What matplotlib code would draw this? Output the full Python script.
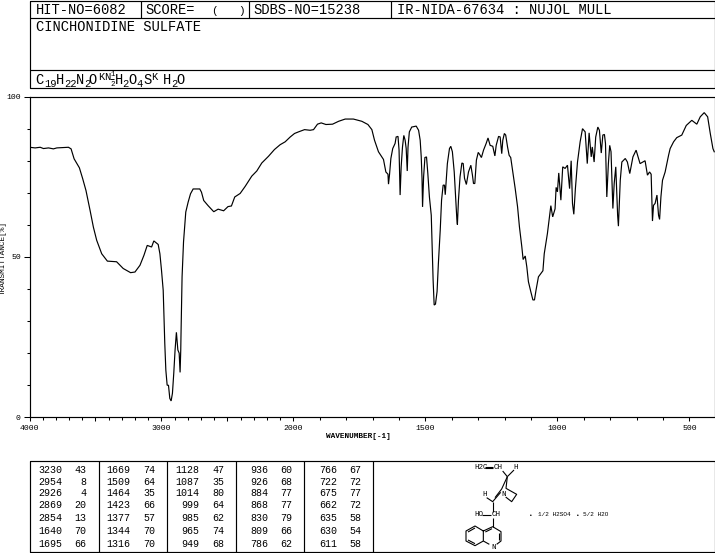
import numpy as np
import matplotlib
matplotlib.use("Agg")
import matplotlib.pyplot as plt
from matplotlib.ticker import FixedLocator, FixedFormatter, NullFormatter

MONO = "Liberation Mono"

wavenumber = [4000,3957,3919,3894,3856,3819,3793,3705,3685,3662,3622,3597,3572,3541,3516,3491,3453,3410,3340,3290,3234,3201,3163,3133,3108,3075,3058,3025,3012,3000,2987,2982,2975,2967,2957,2947,2937,2927,2917,2907,2897,2887,2876,2866,2859,2854,2852,2844,2833,2823,2816,2798,2780,2760,2710,2697,2680,2647,2604,2571,2529,2496,2470,2445,2404,2366,2316,2278,2240,2189,2144,2101,2063,2025,1996,1981,1958,1937,1924,1909,1895,1877,1852,1829,1804,1773,1741,1718,1703,1693,1678,1659,1650,1642,1640,1636,1631,1624,1615,1611,1604,1600,1596,1592,1587,1582,1577,1573,1569,1566,1561,1552,1535,1526,1520,1516,1513,1511,1507,1502,1496,1491,1485,1478,1475,1471,1467,1462,1456,1451,1444,1439,1433,1428,1425,1422,1417,1409,1404,1398,1391,1385,1381,1379,1375,1369,1362,1357,1352,1345,1337,1328,1322,1318,1313,1307,1300,1295,1288,1280,1270,1263,1255,1245,1237,1232,1223,1217,1211,1207,1201,1196,1189,1183,1177,1169,1160,1151,1144,1135,1130,1122,1116,1110,1101,1093,1087,1081,1072,1055,1050,1044,1038,1030,1025,1018,1009,1005,1000,995,987,980,971,962,954,948,943,938,932,924,914,905,895,887,880,872,868,861,855,847,841,834,828,822,818,813,807,802,797,790,785,779,772,769,762,756,743,735,726,714,702,687,668,659,651,645,640,636,630,623,617,613,608,602,592,579,573,560,548,529,512,491,472,459,444,431,421,411,406]
transmittance = [84.2,84.0,84.2,83.8,84.0,83.7,84.0,84.2,83.7,80.6,77.8,74.4,70.7,64.5,59.3,55.2,51.0,48.7,48.5,46.4,45.1,45.3,47.4,50.5,53.6,53.1,55.0,53.9,51.0,45.9,39.6,32.9,23.0,14.7,10.0,10.0,5.9,5.1,7.5,13.7,21.0,26.5,21.0,20.0,14.0,21.0,26.0,43.8,54.7,60.4,64.0,67.1,69.7,71.2,71.2,70.2,67.6,66.0,64.1,64.9,64.4,65.7,65.9,68.7,69.8,72.0,75.2,76.8,79.3,81.4,83.5,85.0,85.9,87.4,88.5,89.0,89.7,89.5,89.7,91.4,91.8,91.3,91.4,92.3,93.0,93.0,92.3,91.3,89.7,86.4,82.8,80.4,76.5,75.8,72.7,75.8,80.7,83.8,85.4,87.4,87.6,83.3,69.3,78.1,84.3,87.9,86.4,83.8,76.8,84.3,89.0,90.5,90.8,89.5,86.4,81.2,74.5,65.6,75.0,81.0,81.2,76.0,68.7,63.0,54.2,42.8,35.0,35.3,39.2,48.0,58.4,67.7,72.4,72.4,69.4,72.9,79.1,83.8,84.5,82.8,76.5,67.7,61.7,60.1,67.7,75.0,79.3,79.1,74.5,72.6,76.5,78.6,75.5,72.9,72.9,80.2,82.6,82.0,81.0,83.3,85.4,87.1,84.8,84.5,81.5,84.8,87.6,87.4,82.2,86.4,88.5,88.0,84.3,81.7,81.0,76.5,71.3,65.6,59.4,53.2,49.2,50.3,46.9,42.3,39.2,36.6,36.6,39.7,43.8,45.7,51.0,54.2,57.3,62.5,66.0,62.5,65.0,71.7,70.3,76.2,67.7,78.1,77.6,78.6,71.3,80.0,66.7,63.3,71.3,79.6,85.9,90.0,89.0,79.1,88.7,81.2,84.3,79.6,87.4,90.5,89.5,82.4,88.0,88.2,85.4,68.7,79.1,84.8,82.8,65.1,72.9,78.1,63.0,59.6,73.9,79.6,80.7,79.6,76.0,81.2,83.3,79.1,80.0,75.5,76.5,75.8,61.2,66.1,66.7,69.3,63.0,61.7,68.7,73.9,76.5,81.7,83.8,85.9,87.2,88.0,91.0,92.6,91.4,93.7,95.0,93.7,88.5,83.8,82.8]

major_ticks = [4000,3500,3000,2500,2000,1500,1000,500]
tick_labels = ["4000","","3000","","2000","1500","1000","500"]
y_major = [0,50,100]
y_labels = ["0","50","100"]

peak_wn = [[3230,2954,2926,2869,2854,1640,1695],
           [1669,1509,1464,1423,1377,1344,1316],
           [1128,1087,1014,999,985,965,949],
           [936,926,884,868,830,809,786],
           [766,722,675,662,635,630,611]]
peak_t = [[43,8,4,20,13,70,66],
          [74,64,35,66,57,70,70],
          [47,35,80,64,62,74,68],
          [60,68,77,77,79,66,62],
          [67,72,77,72,58,54,58]]

W, H = 715, 553
fig = plt.figure(figsize=(W/100, H/100), dpi=100, facecolor="white")

# pixel overlay for the frames and the text panels
ov = fig.add_axes([0, 0, 1, 1], zorder=0)
ov.set_xlim(0, W); ov.set_ylim(H, 0); ov.axis("off")
LW = 0.85

def seg(xs, ys, lw=LW):
    ov.plot(xs, ys, color="black", lw=lw, solid_capstyle="butt", clip_on=False)

def txt(x, y, s, size, ha="left", va="baseline", **kw):
    ov.text(x, y, s, fontsize=size, ha=ha, va=va, family=MONO, color="black", **kw)

# header frame
seg([29.5, 714.5, 714.5, 29.5, 29.5], [0.5, 0.5, 87.5, 87.5, 0.5])
seg([29.5, 714.5], [17.5, 17.5])
seg([29.5, 714.5], [69.5, 69.5])
for x in (140.5, 248.5, 390.5):
    seg([x, x], [0.5, 17.5])

HS = 9.9
txt(35.5, 13.5, "HIT-NO=6082", HS)
txt(145, 13.5, "SCORE=", HS)
txt(211, 13.5, "(", HS*0.8)
txt(238, 13.5, ")", HS*0.8)
txt(253, 13.5, "SDBS-NO=15238", HS)
txt(397, 13.5, "IR-NIDA-67634 : NUJOL MULL", HS)
txt(35.5, 31, "CINCHONIDINE SULFATE", HS)

# formula
for x, s in ((35.5, "C"), (55.5, "H"), (76, "N"), (88.3, "O"), (115, "H"), (128, "O"), (143.3, "S"), (163.3, "H"), (176.7, "O")):
    txt(x, 83.5, s, HS)
for x, s in ((44.5, "19"), (64, "22"), (84, "2"), (122.5, "2"), (136.7, "4"), (171.5, "2")):
    txt(x, 87, s, 7.5)
for x, s in ((98, "K"), (104, "N"), (151.5, "K")):
    txt(x, 80.5, s, 7.5)
txt(110.2, 76.5, "1", 5.4)
txt(110.2, 86, "2", 5.4)
seg([110, 114], [79, 79], 0.7)

# peak table
seg([29.5, 714.5, 714.5, 29.5, 29.5], [460.5, 460.5, 552, 552, 460.5])
for x in (98.5, 166.5, 235.5, 303.5, 372.5):
    seg([x, x], [460.5, 552])
row_y = [470, 481.7, 493.5, 505.5, 518, 531, 544]
col_x = [(62, 86), (130, 155.5), (199.5, 224), (268.7, 292), (337, 361)]
for (xa, xb), wn_col, t_col in zip(col_x, peak_wn, peak_t):
    for y, a, b in zip(row_y, wn_col, t_col):
        txt(xa, y, str(a), 7.2, ha="right", va="center")
        txt(xb, y, str(b), 7.2, ha="right", va="center")

# structure, in pixels of the reference
def zx(p): return 370 + p/3
def zy(p): return 455 + p/3
def bond(*pts, lw=0.8):
    seg([zx(p[0]) for p in pts], [zy(p[1]) for p in pts], lw)
bond((345, 36), (368, 36)); bond((345, 40), (368, 40))
bond((398, 48), (412, 65)); bond((432, 45), (412, 65))
bond((412, 65), (395, 102), (375, 128))
bond((412, 65), (408, 100), (440, 118), (425, 140), (407, 126))
bond((350, 128), (368, 140), (392, 112))
bond((368, 140), (368, 172)); bond((337, 180), (362, 180)); bond((368, 190), (368, 215))
bond((340, 228), (315, 213), (288, 228), (288, 258), (315, 272), (340, 258), (340, 228), (368, 215), (393, 230), (393, 258), (380, 268))
bond((340, 258), (358, 268))
bond((294, 231), (315, 219)); bond((294, 255), (315, 266)); bond((346, 231), (366, 221)); bond((388, 233), (388, 255))
SS = 5.4
for p, q, s in ((312, 38, "H2C"), (370, 38, "CH"), (431, 38, "H"), (337, 120, "H"), (394, 120, "N"),
                (312, 180, "HO"), (364, 180, "CH"), (364, 278, "N")):
    txt(zx(p), zy(q), s, SS, va="center")
for p, s in ((478, "\u2022"), (505, "1/2 H2SO4"), (618, "\u2022"), (640, "5/2 H2O")):
    txt(zx(p), zy(180), s, 4.4, va="center")

# spectrum
def fwd(w):
    w = np.asarray(w, dtype=float)
    return np.where(w < 2000, w, 1000 + w/2)

def inv(v):
    v = np.asarray(v, dtype=float)
    return np.where(v < 2000, v, (v - 1000)*2)

ax = fig.add_axes([29.5/W, 1 - 417.3/H, 685/W, 320.7/H], zorder=1)
ax.patch.set_alpha(0)
ax.set_xscale("function", functions=(fwd, inv))
ax.plot(wavenumber, transmittance, color="black", lw=0.85, solid_joinstyle="miter")
ax.set_xlim(4000, 405)
ax.set_ylim(0, 100)
ax.xaxis.set_major_locator(FixedLocator(major_ticks))
ax.xaxis.set_major_formatter(FixedFormatter(tick_labels))
ax.xaxis.set_minor_locator(FixedLocator(list(range(500, 4000, 100))))
ax.xaxis.set_minor_formatter(NullFormatter())
ax.yaxis.set_major_locator(FixedLocator(y_major))
ax.yaxis.set_major_formatter(FixedFormatter(y_labels))
ax.yaxis.set_minor_locator(FixedLocator(list(range(0, 101, 10))))
ax.yaxis.set_minor_formatter(NullFormatter())
for s in ax.spines.values():
    s.set_linewidth(LW)
ax.tick_params(axis="x", which="major", length=3.2, width=0.75, pad=2, labelsize=5.9)
ax.tick_params(axis="x", which="minor", length=1.8, width=0.75)
ax.tick_params(axis="y", which="major", length=4.3, width=0.75, pad=2, labelsize=5.9)
ax.tick_params(axis="y", which="minor", length=2.0, width=0.75)
for t in ax.get_xticklabels() + ax.get_yticklabels():
    t.set_family(MONO)

txt(358, 437, "WAVENUMBER[-1]", 5.6, ha="center", va="center", fontweight="bold")
txt(3.5, 258, "TRANSMITTANCE[%]", 5.6, ha="center", va="center", rotation=90)

fig.savefig("out.png", dpi=100, facecolor="white")
